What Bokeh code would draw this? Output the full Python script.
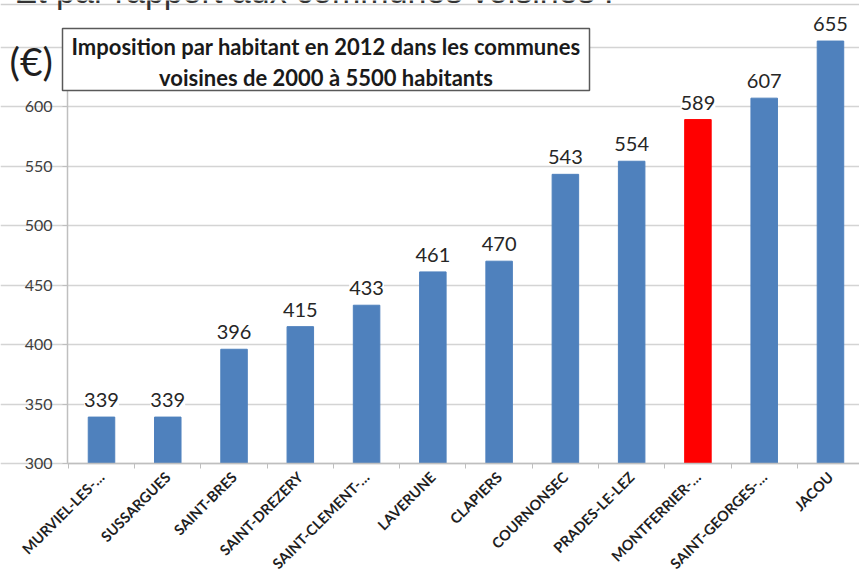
import math
from bokeh.plotting import figure
from bokeh.models import (ColumnDataSource, Range1d, FixedTicker, LabelSet, Label,
                          Span, BoxAnnotation)
from bokeh.core.properties import value
from bokeh.embed import file_html
from bokeh.resources import INLINE

# ---- data ----
communes = ["MURVIEL-LES-…", "SUSSARGUES", "SAINT-BRES", "SAINT-DREZERY",
            "SAINT-CLEMENT-…", "LAVERUNE", "CLAPIERS", "COURNONSEC",
            "PRADES-LE-LEZ", "MONTFERRIER-…", "SAINT-GEORGES-…", "JACOU"]
imposition = [339, 339, 396, 415, 433, 461, 470, 543, 554, 589, 607, 655]
highlight = "MONTFERRIER-…"
y_ticks = [300, 350, 400, 450, 500, 550, 600, 650]
y_labelled = [300, 350, 400, 450, 500, 550, 600]
title_lines = ["Imposition par habitant en 2012 dans les communes",
               "voisines de 2000 à 5500 habitants"]
unit_label = "(€)"
header_text = "Et par rapport aux communes voisines :"

BLUE = "#4f81bd"
RED = "#ff0000"

xs = list(range(len(communes)))
colors = [RED if c == highlight else BLUE for c in communes]
src = ColumnDataSource(dict(x=xs, top=imposition, color=colors,
                            label=[str(v) for v in imposition]))

# layout helpers (pixel -> data) for decorations
X0_PX, X_STEP = 101.0, 66.27          # px of first category, px per category
Y_BOT_PX, Y_SCALE = 463.0, 1.19       # px of y=300, px per unit
def xd(px):
    return (px - X0_PX) / X_STEP
def yd(px):
    return 300 + (Y_BOT_PX - px) / Y_SCALE

W, H = 859, 575
x_start, x_end = xd(0), xd(W)
axis_x = xd(67)

p = figure(width=W, height=H, output_backend="svg", toolbar_location=None,
           x_range=Range1d(x_start, x_end), y_range=Range1d(yd(H), yd(0)),
           min_border_left=0, min_border_right=0, min_border_top=0,
           min_border_bottom=0, title=None)
p.outline_line_color = None
p.background_fill_color = "white"
p.border_fill_color = "white"

p.vbar(x="x", top="top", bottom=300, width=0.4, fill_color="color",
       line_color="color", source=src)

# x axis (drawn at y = 300)
xa = p.xaxis[0]
xa.fixed_location = 300
xa.bounds = (axis_x, x_end)
xa.ticker = FixedTicker(ticks=xs, minor_ticks=[i - 0.5 for i in range(len(communes) + 1)])
xa.major_label_overrides = {i: c for i, c in enumerate(communes)}
xa.major_tick_line_color = None
xa.minor_tick_line_color = "#bfbfbf"
xa.minor_tick_out = 5
xa.minor_tick_in = 0
xa.axis_line_color = "#bfbfbf"
xa.axis_line_width = 1.5
xa.major_label_orientation = math.pi / 4
xa.major_label_text_font = "Lato"
xa.major_label_text_font_style = "bold"
xa.major_label_text_font_size = "14.5px"
xa.major_label_text_color = "#1f1f1f"
xa.major_label_standoff = 5

# y axis (drawn at x = 67 px)
ya = p.yaxis[0]
ya.fixed_location = axis_x
ya.bounds = (300, 650)
ya.ticker = FixedTicker(ticks=y_ticks)
ya.major_label_overrides = {t: ("" if t not in y_labelled else str(t)) for t in y_ticks}
ya.minor_tick_line_color = None
ya.major_tick_out = 5
ya.major_tick_in = 0
ya.major_tick_line_color = "#bfbfbf"
ya.axis_line_color = "#bfbfbf"
ya.axis_line_width = 1.5
ya.major_label_text_font = "Lato"
ya.major_label_text_font_size = "16px"
ya.major_label_text_color = "#404040"
ya.major_label_standoff = 10

p.xgrid.grid_line_color = None
p.ygrid.ticker = FixedTicker(ticks=y_ticks)
p.ygrid.bounds = (axis_x, x_end)
p.ygrid.grid_line_color = "#d4d4d4"
p.ygrid.grid_line_width = 1.5

# value labels
labels = LabelSet(x="x", y="top", text="label", source=src, y_offset=10,
                  text_align="center", text_baseline="alphabetic",
                  text_font=value("Lato"), text_font_size="20px",
                  text_color="#262626", background_fill_color="white")
p.add_layout(labels)

# header line and cut-off text at the very top
p.add_layout(Span(location=yd(4), dimension="width", line_color="#cfcfcf", line_width=1.5))
p.add_layout(Label(x=xd(14), y=yd(-10), text=header_text, text_font="Liberation Sans",
                   text_font_size="34px", text_color="#333333",
                   text_baseline="alphabetic", text_align="left"))

# unit label
p.add_layout(Label(x=xd(9), y=yd(60), text=unit_label, text_font="Lato",
                   text_font_size="39px", text_color="#1f1f1f",
                   text_baseline="middle", text_align="left"))

# boxed title
p.add_layout(BoxAnnotation(left=xd(62), right=xd(589), top=yd(28), bottom=yd(90),
                           fill_color="white", fill_alpha=1.0,
                           line_color="#595959", line_width=1.5, line_alpha=1.0))
p.add_layout(Label(x=xd(325.5), y=yd(46), text=title_lines[0], text_font="Lato",
                   text_font_style="bold", text_font_size="22px", text_color="#1a1a1a",
                   text_align="center", text_baseline="middle"))
p.add_layout(Label(x=xd(325.5), y=yd(77), text=title_lines[1], text_font="Lato",
                   text_font_style="bold", text_font_size="22px", text_color="#1a1a1a",
                   text_align="center", text_baseline="middle"))

open("out.html", "w").write(file_html(p, INLINE))
